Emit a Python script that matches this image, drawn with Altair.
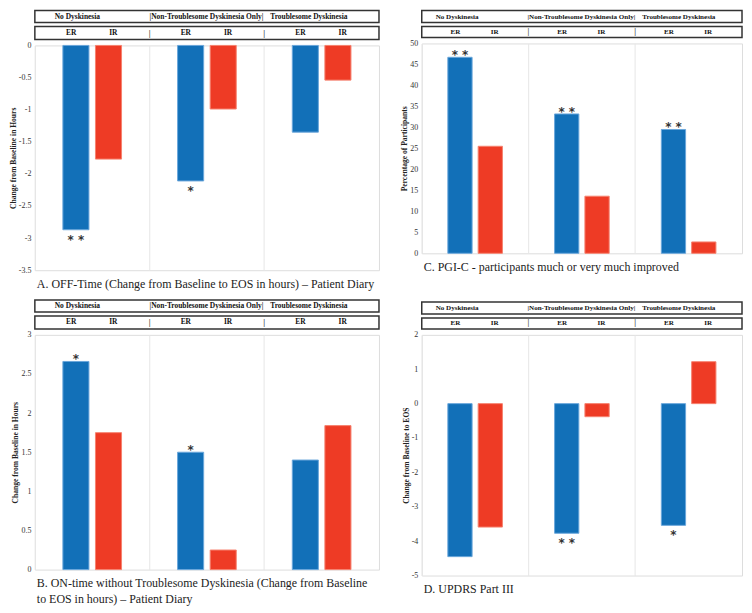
import altair as alt
import pandas as pd

SERIF = "Liberation Serif"
BLUE = "#1270B8"
RED = "#EE3B25"
BLUE_EDGE = "#6AA6DB"
RED_EDGE = "#F6826F"

groups = ["No Dyskinesia", "|Non-Troublesome Dyskinesia Only|", "Troublesome Dyskinesia"]
drugs = ["ER", "IR"]

# A. OFF-time
off_er = [-2.87, -2.11, -1.35]
off_ir = [-1.77, -0.99, -0.54]
off_stars = ["* *", "*", ""]

# B. ON-time without troublesome dyskinesia
on_er = [2.66, 1.50, 1.40]
on_ir = [1.75, 0.25, 1.84]
on_stars = ["*", "*", ""]

# C. PGI-C
pgi_er = [46.7, 33.2, 29.5]
pgi_ir = [25.5, 13.6, 2.7]
pgi_stars = ["* *", "* *", "* *"]

# D. UPDRS Part III
upd_er = [-4.45, -3.77, -3.54]
upd_ir = [-3.59, -0.38, 1.22]
upd_stars = ["", "* *", "*"]

ticks_a = [0, -0.5, -1, -1.5, -2, -2.5, -3, -3.5]
ticks_b = [0, 0.5, 1, 1.5, 2, 2.5, 3]
ticks_c = [0, 5, 10, 15, 20, 25, 30, 35, 40, 45, 50]
ticks_d = [-5, -4, -3, -2, -1, 0, 1, 2]


def make_df(er, ir, stars):
    rows = []
    for i, g in enumerate(groups):
        rows.append({"group": g, "drug": "ER", "value": er[i], "star": stars[i]})
        rows.append({"group": g, "drug": "IR", "value": ir[i], "star": ""})
    return pd.DataFrame(rows)


def x_group(**kw):
    return alt.X("group:N", sort=groups,
                 scale=alt.Scale(domain=groups, paddingInner=0, paddingOuter=0), **kw)


def x_offset():
    return alt.XOffset("drug:N", sort=drugs,
                       scale=alt.Scale(domain=drugs, paddingInner=0.2, paddingOuter=0.86))


def header_groups(width, fs, offs):
    layers = []
    for g, off in zip(groups, offs):
        layers.append(
            alt.Chart(pd.DataFrame({"group": [g]}))
            .mark_text(font=SERIF, fontSize=fs, fontWeight="bold", align="left",
                       baseline="middle", dx=off - width / 6.0, color="#111")
            .encode(x=x_group(axis=None), text="group:N")
        )
    return alt.layer(*layers).properties(
        width=width, height=12,
        view=alt.ViewBackground(stroke="#333333", strokeWidth=1.5))


def header_drugs(df, width, h, fs):
    t = (alt.Chart(df)
         .mark_text(font=SERIF, fontSize=fs, fontWeight="bold", baseline="middle", color="#111")
         .encode(x=x_group(axis=None), xOffset=x_offset(), text="drug:N"))
    sep = (alt.Chart(pd.DataFrame({"group": groups[1:]}))
           .mark_text(text="|", font=SERIF, fontSize=fs + 1, fontWeight="bold",
                      baseline="middle", color="#333")
           .encode(x=x_group(axis=None, bandPosition=0)))
    return alt.layer(t, sep).properties(
        width=width, height=h,
        view=alt.ViewBackground(stroke="#333333", strokeWidth=1.5))


def plot(df, width, height, ydom, yvals, ytitle, caption):
    xenc = x_group(axis=alt.Axis(title=None, labels=False, ticks=False, domain=False,
                                 grid=True, bandPosition=0, gridColor="#e6e6e6", gridWidth=1))
    yenc = alt.Y("value:Q", scale=alt.Scale(domain=ydom, nice=False),
                 axis=alt.Axis(values=yvals, title=ytitle, titleFont=SERIF, titleFontSize=7.6,
                               titleFontWeight="bold", titleColor="#222", titlePadding=1,
                               labelFont=SERIF, labelFontSize=8, labelColor="#333",
                               labelPadding=4, ticks=False, domain=False, grid=False,
                               labelExpr="'' + datum.value"))
    bars = (alt.Chart(df).mark_bar(strokeWidth=1)
            .encode(x=xenc, xOffset=x_offset(), y=yenc, y2=alt.datum(0),
                    color=alt.Color("drug:N", scale=alt.Scale(domain=drugs, range=[BLUE, RED]), legend=None),
                    stroke=alt.Stroke("drug:N", scale=alt.Scale(domain=drugs, range=[BLUE_EDGE, RED_EDGE]), legend=None)))
    neg = (alt.Chart(df).transform_filter("datum.star != '' && datum.value < 0")
           .mark_text(font="DejaVu Sans", fontSize=12, fontWeight="bold", color="#333",
                      baseline="alphabetic", dy=14)
           .encode(x=xenc, xOffset=x_offset(), y=yenc, text="star:N"))
    pos = (alt.Chart(df).transform_filter("datum.star != '' && datum.value > 0")
           .mark_text(font="DejaVu Sans", fontSize=12, fontWeight="bold", color="#333",
                      baseline="alphabetic", dy=2)
           .encode(x=xenc, xOffset=x_offset(), y=yenc, text="star:N"))
    return alt.layer(bars, neg, pos).properties(
        width=width, height=height,
        title=alt.TitleParams(text=caption, orient="bottom", anchor="start", frame="group",
                              font=SERIF, fontSize=12, fontWeight="normal", color="#222",
                              offset=5, lineHeight=16, dx=2))


def panel(df, width, h2, fs, offs, ph, ydom, yvals, ytitle, caption):
    heads = alt.vconcat(
        header_groups(width, fs, offs),
        header_drugs(df, width, h2, fs),
        spacing=2,
    ).resolve_scale(x="independent", xOffset="independent")
    return alt.vconcat(
        heads,
        plot(df, width, ph, ydom, yvals, ytitle, caption),
        spacing=0,
    ).resolve_scale(x="independent", xOffset="independent", y="independent")


W1, W2 = 346, 322
OFFS_L = [20, 0, 6]
OFFS_R = [14, -1, 7]

pA = panel(make_df(off_er, off_ir, off_stars), W1, 13, 7.5, OFFS_L, 226, [-3.5, 0], ticks_a,
           "Change from Baseline in Hours",
           "A. OFF-Time (Change from Baseline to EOS in hours) \u2013 Patient Diary")
pB = panel(make_df(on_er, on_ir, on_stars), W1, 13, 7.5, OFFS_L, 236, [0, 3], ticks_b,
           "Change from Baseline in Hours",
           ["B. ON-time without Troublesome Dyskinesia (Change from Baseline",
            "to EOS in hours) \u2013 Patient Diary"])
pC = panel(make_df(pgi_er, pgi_ir, pgi_stars), W2, 11, 7.1, OFFS_R, 211, [0, 50], ticks_c,
           "Percentage of Participants",
           "C. PGI-C - participants much or very much improved")
pD = panel(make_df(upd_er, upd_ir, upd_stars), W2, 11, 7.1, OFFS_R, 242, [-5, 2], ticks_d,
           "Change from Baseline to EOS",
           "D. UPDRS Part III")

left = alt.vconcat(pA, pB, spacing=8).resolve_scale(x="independent", xOffset="independent", y="independent")
right = alt.vconcat(pC, pD, spacing=27).resolve_scale(x="independent", xOffset="independent", y="independent")

chart = (alt.hconcat(left, right, spacing=20)
         .resolve_scale(x="independent", xOffset="independent", y="independent")
         .properties(padding={"left": 0, "top": 0, "right": 1, "bottom": 1}, background="white")
         .configure_view(stroke="#8c8c8c", strokeWidth=1)
         .configure(font=SERIF))

chart.save("out.html", embed_options={"renderer": "svg", "actions": False})
